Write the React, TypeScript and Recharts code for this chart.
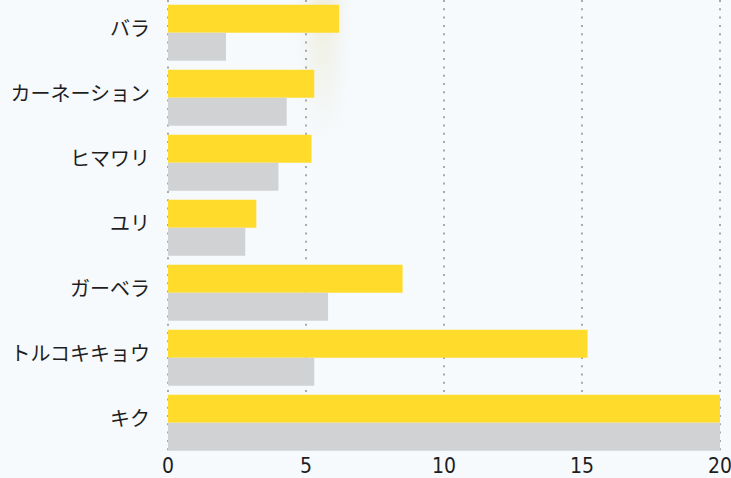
import { Bar, BarChart, CartesianGrid, XAxis, YAxis } from "recharts";

const flowers = ["バラ", "カーネーション", "ヒマワリ", "ユリ", "ガーベラ", "トルコキキョウ", "キク"];
const current = [6.2, 5.3, 5.2, 3.2, 8.5, 15.2, 20];
const previous = [2.1, 4.3, 4.0, 2.8, 5.8, 5.3, 20];
const xTicks = [0, 5, 10, 15, 20];

const data = flowers.map((name, i) => ({ name, current: current[i], previous: previous[i] }));

function FlowerTick({ x, y, payload }: any) {
  return (
    <text
      x={x}
      y={y}
      dy={-5}
      textAnchor="end"
      dominantBaseline="central"
      fill="#1e1e1e"
      fontSize={20}
      fontFamily="'Noto Sans CJK JP', 'Noto Sans', sans-serif"
    >
      {payload.value}
    </text>
  );
}

export default function App() {
  return (
    <div
      style={{
        position: "absolute",
        left: 0,
        top: 0,
        width: 731,
        height: 478,
        background: "#f6fafd",
        overflow: "hidden",
      }}
    >
      {/* faint beige smear behind the top of the plot */}
      <div
        style={{
          position: "absolute",
          left: 308,
          top: -10,
          width: 30,
          height: 150,
          background: "linear-gradient(to bottom, rgba(225,215,165,0.4), rgba(225,215,165,0) 100%)",
          filter: "blur(8px)",
        }}
      />
      <div style={{ position: "relative" }}>
        <BarChart
          width={731}
          height={478}
          data={data}
          layout="vertical"
          margin={{ top: 0, right: 11, left: 0, bottom: 0 }}
          barCategoryGap="7.2%"
          barGap={0}
        >
          <CartesianGrid horizontal={false} stroke="#8f8f8f" strokeWidth={1.5} strokeDasharray="2 6.3" />
          <XAxis
            type="number"
            domain={[0, 20]}
            ticks={xTicks}
            height={23}
            axisLine={false}
            tickLine={false}
            tickSize={0}
            tickMargin={3}
            interval={0}
            tick={{
              fill: "#1e1e1e",
              fontSize: 21,
              fontFamily: "'DejaVu Sans Condensed', 'Liberation Sans Narrow', sans-serif",
            }}
          />
          <YAxis
            type="category"
            dataKey="name"
            width={168}
            axisLine={false}
            tickLine={false}
            tickSize={0}
            tickMargin={18}
            interval={0}
            tick={<FlowerTick />}
          />
          <Bar dataKey="current" fill="#ffdc2b" isAnimationActive={false} />
          <Bar dataKey="previous" fill="#d1d2d4" isAnimationActive={false} />
        </BarChart>
      </div>
    </div>
  );
}
